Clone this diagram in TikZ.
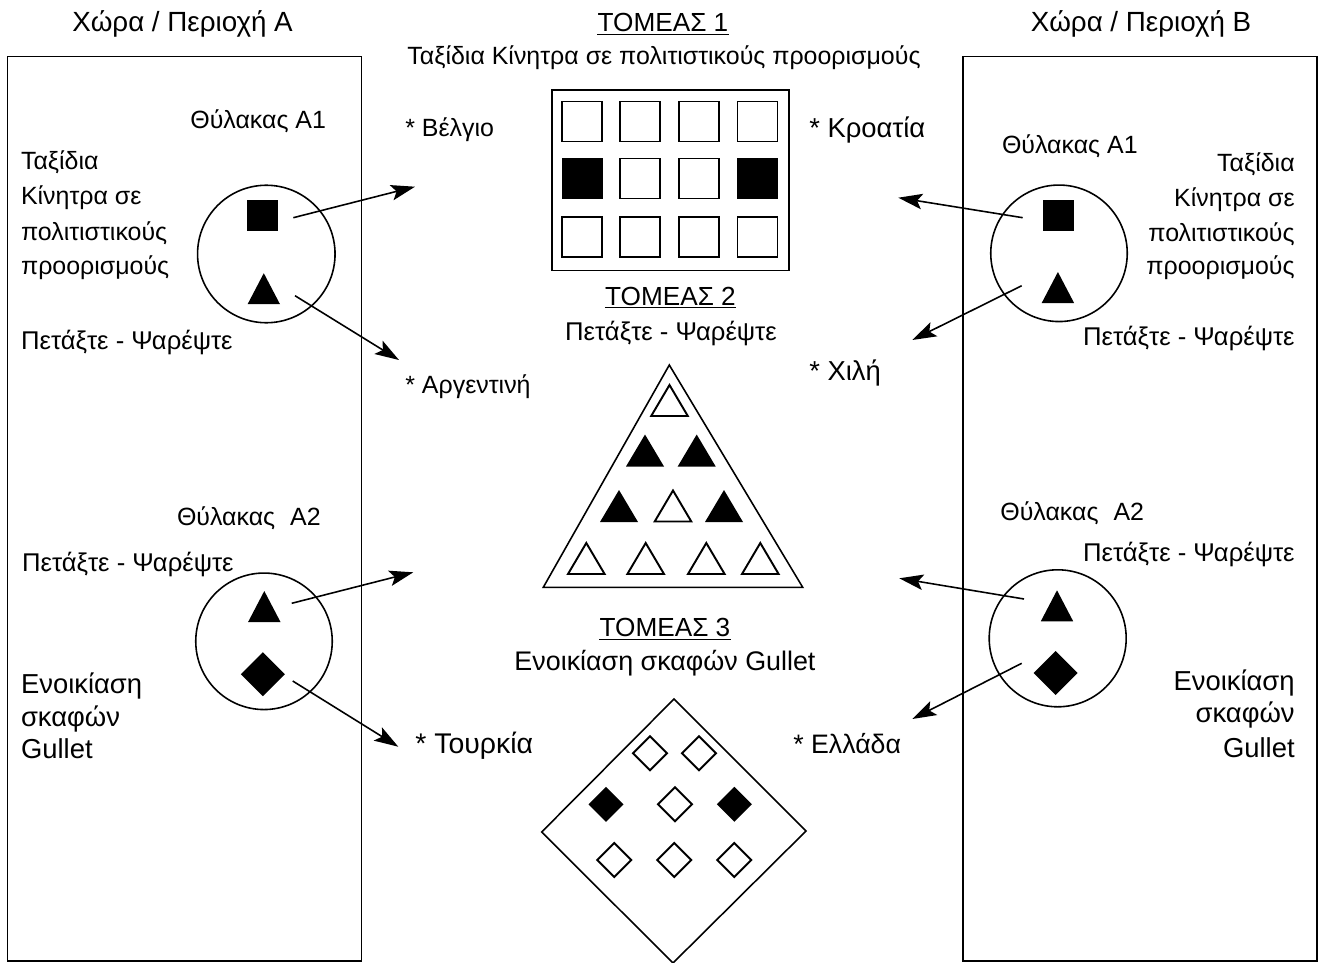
\documentclass[tikz,border=0pt]{standalone}
\usepackage{fontspec}
\setmainfont{Liberation Sans}
\usetikzlibrary{arrows.meta}
\newcommand\fsN{\fontsize{14.2}{17}\selectfont}
\newcommand\fsB{\fontsize{15.6}{18}\selectfont}
\tikzset{
  txt/.style={inner sep=0pt, font=\fsN},
  bigtxt/.style={inner sep=0pt, font=\fsB},
  fsz/.style={inner sep=0pt, font={\fontsize{#1pt}{18pt}\selectfont}},
  frame/.style={draw, line width=0.9pt},
  sm/.style={line width=1.1pt},
  arr/.style={-{Stealth[length=4.8mm,width=3.1mm,inset=1mm]}, line width=0.9pt},
  uline/.style={line width=0.6pt},
  sqw/.pic={\draw[sm] (-20,-20) rectangle (20,20);},
  sqb/.pic={\fill (-20.5,-20.5) rectangle (20.5,20.5);},
  triw/.pic={\draw[sm] (0,-15.5) -- (18.3,15.5) -- (-18.3,15.5) -- cycle;},
  trib/.pic={\fill (0,-16) -- (19,16) -- (-19,16) -- cycle;},
  diaw/.pic={\draw[sm] (0,-17) -- (17,0) -- (0,17) -- (-17,0) -- cycle;},
  diab/.pic={\fill (0,-17.5) -- (17.5,0) -- (0,17.5) -- (-17.5,0) -- cycle;},
  csq/.pic={\fill (-15.5,-15.5) rectangle (15.5,15.5);},
  ctri/.pic={\fill (0,-15.5) -- (16.2,15.5) -- (-16.2,15.5) -- cycle;},
  cdia/.pic={\fill (0,-22) -- (22,0) -- (0,22) -- (-22,0) -- cycle;},
}
\begin{document}
\begin{tikzpicture}[x=0.02cm,y=-0.02cm]
\useasboundingbox (0,0) rectangle (1323,963);

% region boxes
\draw[frame] (7.5,56.5) rectangle (361.5,961);
\draw[frame] (963,56.5) rectangle (1317,961);

% headings
\node[fsz=15.8,anchor=base] (hA) at (182.5,31.7) {Χώρα / Περιοχή Α};
\node[fsz=15.8,anchor=base] (hB) at (1141,31.7) {Χώρα / Περιοχή Β};
\node[fsz=14.9,anchor=base] (t1) at (663,32) {ΤΟΜΕΑΣ 1};
\draw[uline] ([yshift=-1.6pt]t1.base west) -- ([yshift=-1.6pt]t1.base east);
\node[txt,anchor=base] (s1) at (664,65) {Ταξίδια Κίνητρα σε πολιτιστικούς προορισμούς};

% sector 1 rectangle
\draw[frame] (552,90) rectangle (789,270.5);
\foreach \x in {582,640,699,757.5}{
  \foreach \y in {121.5,237}{ \pic at (\x,\y) {sqw}; }
}
\pic at (582,178.5) {sqb};
\pic at (640,178.5) {sqw};
\pic at (699,178.5) {sqw};
\pic at (757.5,178.5) {sqb};

\node[fsz=14.9,anchor=base] (t2) at (670.5,305) {ΤΟΜΕΑΣ 2};
\draw[uline] ([yshift=-1.6pt]t2.base west) -- ([yshift=-1.6pt]t2.base east);
\node[fsz=14.6,anchor=base] (s2) at (671,340) {Πετάξτε - Ψαρέψτε};

% sector 2 triangle
\draw[frame] (669.3,365) -- (802.7,587.3) -- (543.3,587.3) -- cycle;
\pic at (669.5,400.5) {triw};
\pic at (645,450.5) {trib};
\pic at (696.7,450.5) {trib};
\pic at (619,506) {trib};
\pic at (673,506) {triw};
\pic at (724,506) {trib};
\pic at (586.3,558.5) {triw};
\pic at (645.7,558.5) {triw};
\pic at (706.3,558.5) {triw};
\pic at (760.3,558.5) {triw};

\node[fsz=14.9,anchor=base] (t3) at (665,636.7) {ΤΟΜΕΑΣ 3};
\draw[uline] ([yshift=-1.6pt]t3.base west) -- ([yshift=-1.6pt]t3.base east);
\node[fsz=15.3,anchor=base] (s3) at (665,670) {Ενοικίαση σκαφών Gullet};

% sector 3 diamond
\draw[frame] (674,699) -- (806,831) -- (673,963) -- (541.7,832) -- cycle;
\pic at (650,753.3) {diaw};
\pic at (699,753.3) {diaw};
\pic at (606,804.3) {diab};
\pic at (675,804.3) {diaw};
\pic at (734.3,804.3) {diab};
\pic at (614.3,860) {diaw};
\pic at (674.3,860) {diaw};
\pic at (734.3,860) {diaw};

% country labels
\node[txt,anchor=base west] (be) at (405,136.7) {* Βέλγιο};
\node[bigtxt,anchor=base west] (hr) at (809,138) {* Κροατία};
\node[txt,anchor=base west] (ar) at (405,393) {* Αργεντινή};
\node[bigtxt,anchor=base west] (cl) at (809,380) {* Χιλή};
\node[fsz=16.2,anchor=base west] (tr) at (415,753) {* Τουρκία};
\node[fsz=15.2,anchor=base west] (gr) at (793,753) {* Ελλάδα};

% ---------- left region ----------
\node[txt,anchor=base west] (lA1) at (190,129) {Θύλακας Α1};
\node[txt,anchor=base west] (lt1) at (20.7,170) {Ταξίδια};
\node[txt,anchor=base west] (lt2) at (20.7,205) {Κίνητρα σε};
\node[txt,anchor=base west] (lt3) at (20.7,240) {πολιτιστικούς};
\node[txt,anchor=base west] (lt4) at (20.7,275) {προορισμούς};
\node[fsz=14.6,anchor=base west] (lp1) at (20.7,349.3) {Πετάξτε - Ψαρέψτε};
\node[draw,circle,line width=0.9pt,minimum size=137.5*0.02cm,inner sep=0pt] (cA1) at (266.3,254) {};
\pic at (262,215.5) {csq};
\pic at (263.8,288.7) {ctri};
\coordinate (a1s) at (293.3,217.7);
\coordinate (a1e) at (415,186.7);
\coordinate (a2s) at (295,295.7);
\coordinate (a2e) at (399,360);
\draw[arr] (a1s) -- (a1e);
\draw[arr] (a2s) -- (a2e);

\node[txt,anchor=base west] (lA2) at (176.7,525) {Θύλακας\hspace{0.6em}Α2};
\node[fsz=14.6,anchor=base west] (lp2) at (21.7,571.7) {Πετάξτε - Ψαρέψτε};
\node[bigtxt,anchor=base west] (le1) at (20.7,693) {Ενοικίαση};
\node[bigtxt,anchor=base west] (le2) at (20.7,726) {σκαφών};
\node[bigtxt,anchor=base west] (le3) at (20.7,758) {Gullet};
\node[draw,circle,line width=0.9pt,minimum size=136.5*0.02cm,inner sep=0pt] (cA2) at (264,641.3) {};
\pic at (264.3,606.5) {ctri};
\pic at (262.8,674.2) {cdia};
\coordinate (a3s) at (291.7,603.3);
\coordinate (a3e) at (413.3,572.3);
\coordinate (a4s) at (292.7,681);
\coordinate (a4e) at (398.3,746.7);
\draw[arr] (a3s) -- (a3e);
\draw[arr] (a4s) -- (a4e);

% ---------- right region ----------
\node[txt,anchor=base west] (rA1) at (1001.7,153.3) {Θύλακας Α1};
\node[txt,anchor=base east] (rt1) at (1295,171.7) {Ταξίδια};
\node[txt,anchor=base east] (rt2) at (1295,206.7) {Κίνητρα σε};
\node[txt,anchor=base east] (rt3) at (1295,241.7) {πολιτιστικούς};
\node[txt,anchor=base east] (rt4) at (1295,275) {προορισμούς};
\node[fsz=14.6,anchor=base east] (rp1) at (1295,345) {Πετάξτε - Ψαρέψτε};
\node[draw,circle,line width=0.9pt,minimum size=136.5*0.02cm,inner sep=0pt] (cB1) at (1059,253.3) {};
\pic at (1058.8,215.5) {csq};
\pic at (1057.9,287.5) {ctri};
\coordinate (b1s) at (1022.7,217.7);
\coordinate (b1e) at (898.3,197.7);
\coordinate (b2s) at (1021.7,285.7);
\coordinate (b2e) at (912.3,340);
\draw[arr] (b1s) -- (b1e);
\draw[arr] (b2s) -- (b2e);

\node[txt,anchor=base west] (rA2) at (1000,520) {Θύλακας\hspace{0.6em}Α2};
\node[fsz=14.6,anchor=base east] (rp2) at (1295,561.7) {Πετάξτε - Ψαρέψτε};
\node[bigtxt,anchor=base east] (re1) at (1295,690) {Ενοικίαση};
\node[bigtxt,anchor=base east] (re2) at (1295,722) {σκαφών};
\node[bigtxt,anchor=base east] (re3) at (1295,757) {Gullet};
\node[draw,circle,line width=0.9pt,minimum size=137*0.02cm,inner sep=0pt] (cB2) at (1057.7,638.3) {};
\pic at (1057,605.8) {ctri};
\pic at (1055.7,673) {cdia};
\coordinate (b3s) at (1024,599);
\coordinate (b3e) at (899.3,578.3);
\coordinate (b4s) at (1021.7,663.3);
\coordinate (b4e) at (912.3,719);
\draw[arr] (b3s) -- (b3e);
\draw[arr] (b4s) -- (b4e);
\end{tikzpicture}
\end{document}
